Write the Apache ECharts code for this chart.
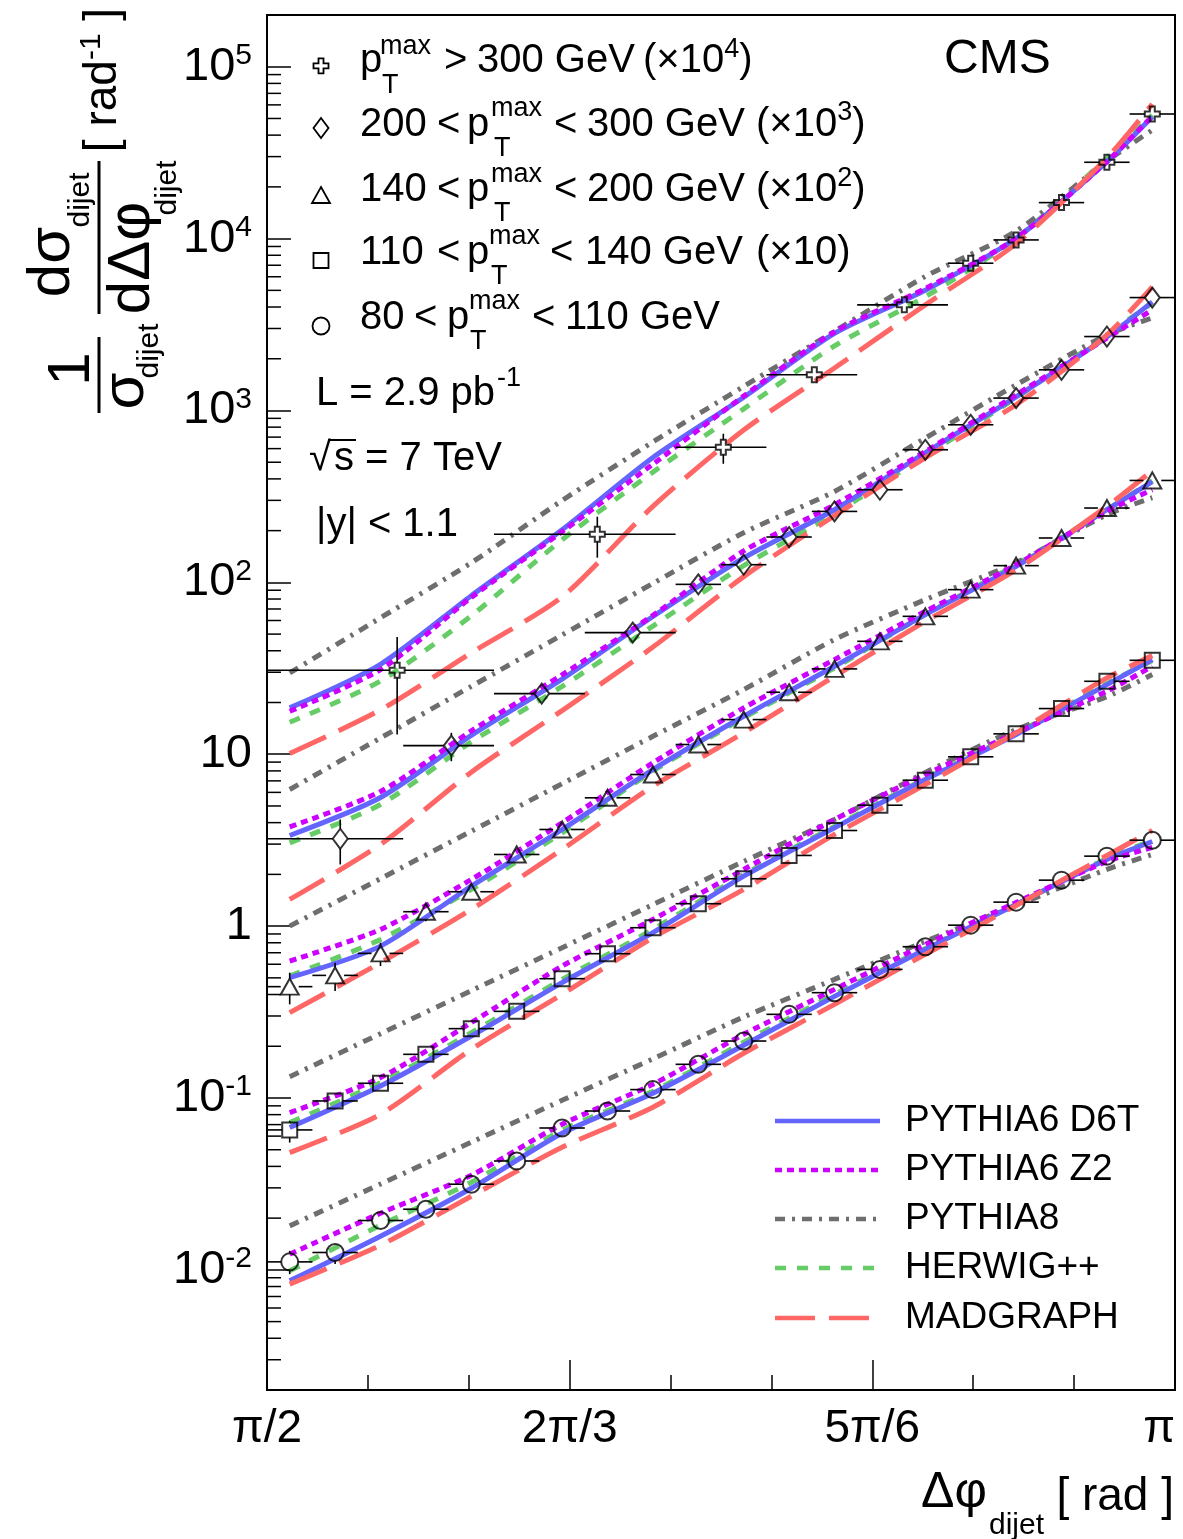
<!DOCTYPE html>
<html>
<head>
<meta charset="utf-8">
<script src="https://cdn.jsdelivr.net/npm/echarts@6/dist/echarts.min.js"></script>
<style>
  html, body { margin: 0; padding: 0; background: #fff; }
  #chart { width: 1183px; height: 1539px; }
</style>
</head>
<body>
<div id="chart"></div>
<script>
// CMS dijet azimuthal decorrelation, 1/sigma dsigma/dDeltaPhi, five pT(max) bins
// x is kept in degrees (90 = pi/2 ... 180 = pi), labels are written as fractions of pi

const FONT = '"Liberation Sans", Arial, Helvetica, sans-serif';

// ---- axis ticks ----
const xTickValues = [90, 120, 150, 180];
const xTickLabels = ['π/2', '2π/3', '5π/6', 'π'];

// ---- binning (20 bins of pi/40) ----
const binEdges = [90, 94.5, 99, 103.5, 108, 112.5, 117, 121.5, 126, 130.5, 135,
  139.5, 144, 148.5, 153, 157.5, 162, 166.5, 171, 175.5, 180];

// scale factors shown in the legend (x10^4, x10^3, x10^2, x10, x1)
const groupScale = [1e4, 1e3, 1e2, 10, 1];

// ---- data: pT > 300 GeV (open crosses, wide bins at low dphi) ----
const crossX = [102.9, 122.74, 135.23, 144.25, 153.17, 159.75, 164.25, 168.75, 173.25, 177.75];
const crossLo = [90, 112.5, 130.5, 139.5, 148.5, 157.5, 162, 166.5, 171, 175.5];
const crossHi = [112.5, 130.5, 139.5, 148.5, 157.5, 162, 166.5, 171, 175.5, 180];
const crossY = [0.003079, 0.01904, 0.0611, 0.1613, 0.4117, 0.7194, 0.9826, 1.620, 2.781, 5.309];
const crossErrLo = [0.001302, 0.01392, 0.04898, null, null, null, null, null, null, null];
const crossErrHi = [0.004815, 0.0241, 0.0732, null, null, null, null, null, null, null];

// ---- data: 200 < pT < 300 GeV (diamonds) ----
const diamondX = [97.26, 108.27, 117.23, 126.25, 132.75, 137.25, 141.75, 146.25, 150.75,
  155.25, 159.75, 164.25, 168.75, 173.25, 177.75];
const diamondLo = [90, 103.5, 112.5, 121.5, 130.5, 135, 139.5, 144, 148.5, 153, 157.5, 162, 166.5, 171, 175.5];
const diamondHi = [103.5, 112.5, 121.5, 130.5, 135, 139.5, 144, 148.5, 153, 157.5, 162, 166.5, 171, 175.5, 180];
const diamondY = [0.003222, 0.01123, 0.02254, 0.05101, 0.09736, 0.1267, 0.1836, 0.2587, 0.3459,
  0.5909, 0.8258, 1.181, 1.724, 2.693, 4.539];
const diamondErrLo = [0.002284, 0.009106, 0.01998, null, null, null, null, null, null, null, null, null, null, null, null];
const diamondErrHi = [0.004173, 0.01332, 0.02542, null, null, null, null, null, null, null, null, null, null, null, null];

// ---- data: 140 < pT < 200 GeV (triangles) ----
const triangleY = [0.004444, 0.005168, 0.006939, 0.01213, 0.01585, 0.02611, 0.03649, 0.05579, 0.07621, 0.1139,
  0.1591, 0.2294, 0.3137, 0.4539, 0.6344, 0.907, 1.251, 1.812, 2.707, 3.917];
const triangleErrLo = [0.003505, 0.004188, 0.005855, 0.01069, null, null, null, null, null, null,
  null, null, null, null, null, null, null, null, null, null];
const triangleErrHi = [0.005358, 0.006127, 0.008007, 0.01337, null, null, null, null, null, null,
  null, null, null, null, null, null, null, null, null, null];

// ---- data: 110 < pT < 140 GeV (squares) ----
const squareY = [0.00652, 0.00961, 0.01218, 0.01795, 0.02532, 0.03192, 0.04945, 0.0691, 0.0979, 0.135,
  0.1886, 0.2577, 0.36, 0.5051, 0.7062, 0.966, 1.314, 1.844, 2.657, 3.52];
const squareErrLo = [0.005504, null, null, null, null, null, null, null, null, null,
  null, null, null, null, null, null, null, null, null, null];
const squareErrHi = [0.00735, null, null, null, null, null, null, null, null, null,
  null, null, null, null, null, null, null, null, null, null];

// ---- data: 80 < pT < 110 GeV (circles) ----
const circleY = [0.01113, 0.01262, 0.01937, 0.02254, 0.0315, 0.043, 0.0669, 0.084, 0.1119, 0.157,
  0.2145, 0.3067, 0.41, 0.56, 0.759, 1.013, 1.379, 1.851, 2.553, 3.162];
const circleErrLo = [0.00944, 0.0108, null, null, null, null, null, null, null, null,
  null, null, null, null, null, null, null, null, null, null];
const circleErrHi = [0.0129, 0.0141, null, null, null, null, null, null, null, null,
  null, null, null, null, null, null, null, null, null, null];

// ---- generator predictions, read at these dphi values, one row per pT bin (high -> low) ----
const modelX = [92.25, 101.25, 110.25, 119.25, 128.25, 137.25, 146.25, 155.25, 164.25, 173.25, 177.75];

const pythia6D6T = [
  [0.001861, 0.003338, 0.008368, 0.02025, 0.0533, 0.1195, 0.2811, 0.5012, 1.005, 2.804, 5.119],
  [0.003368, 0.005602, 0.01288, 0.02736, 0.06327, 0.1388, 0.2646, 0.5676, 1.201, 2.682, 4.285],
  [0.005012, 0.00765, 0.01708, 0.03649, 0.08147, 0.1663, 0.3248, 0.649, 1.239, 2.646, 3.85],
  [0.006728, 0.01174, 0.02293, 0.04688, 0.09155, 0.1953, 0.3734, 0.7129, 1.302, 2.542, 3.553],
  [0.00863, 0.0157, 0.02985, 0.06235, 0.1065, 0.2025, 0.3902, 0.7322, 1.337, 2.443, 3.108]
];
const pythia6Z2 = [
  [0.001778, 0.003108, 0.008168, 0.01972, 0.04874, 0.1214, 0.2872, 0.5121, 1.005, 2.804, 5.168],
  [0.003783, 0.006068, 0.01368, 0.02899, 0.06429, 0.1524, 0.2829, 0.5775, 1.234, 2.636, 3.85],
  [0.00626, 0.009568, 0.01868, 0.03992, 0.08913, 0.1861, 0.3553, 0.6783, 1.267, 2.587, 3.459],
  [0.008226, 0.01314, 0.02744, 0.05855, 0.1094, 0.2136, 0.4173, 0.7621, 1.332, 2.325, 3.248],
  [0.01234, 0.02137, 0.03553, 0.07033, 0.1202, 0.2346, 0.4285, 0.7826, 1.373, 2.378, 2.868]
];
const pythia8 = [
  [0.002974, 0.006219, 0.013, 0.02994, 0.0656, 0.138, 0.2891, 0.6024, 1.106, 2.826, 4.285],
  [0.006234, 0.01244, 0.02482, 0.04945, 0.09867, 0.1945, 0.3381, 0.691, 1.41, 2.755, 3.459],
  [0.01, 0.01889, 0.03567, 0.06737, 0.1271, 0.2378, 0.4645, 0.7931, 1.302, 2.475, 3.108],
  [0.01331, 0.02368, 0.04211, 0.07489, 0.1334, 0.2378, 0.4173, 0.7829, 1.392, 2.165, 2.907],
  [0.01803, 0.03157, 0.05527, 0.097, 0.169, 0.296, 0.49, 0.815, 1.319, 2.137, 2.611]
];
const herwigPP = [
  [0.001535, 0.002668, 0.006395, 0.01772, 0.04378, 0.1022, 0.2378, 0.4587, 1.005, 2.934, 5.237],
  [0.003053, 0.0051, 0.01179, 0.02479, 0.0557, 0.1251, 0.2509, 0.5453, 1.185, 2.755, 4.228],
  [0.005121, 0.008368, 0.01634, 0.03491, 0.07965, 0.1628, 0.3179, 0.649, 1.267, 2.646, 3.902],
  [0.007194, 0.01229, 0.024, 0.04899, 0.09568, 0.1998, 0.3798, 0.7224, 1.319, 2.576, 3.506],
  [0.00987, 0.0182, 0.03235, 0.0649, 0.1094, 0.2108, 0.4008, 0.742, 1.337, 2.475, 3.15]
];
const madgraph = [
  [0.001009, 0.001812, 0.003892, 0.008234, 0.02766, 0.07691, 0.1766, 0.4117, 0.9352, 2.946, 6.07],
  [0.00143, 0.002985, 0.00786, 0.01795, 0.04201, 0.108, 0.2443, 0.5309, 1.08, 2.755, 5.238],
  [0.003137, 0.006127, 0.01251, 0.02792, 0.06516, 0.1332, 0.2841, 0.5933, 1.185, 2.766, 4.461],
  [0.004815, 0.008039, 0.01919, 0.04009, 0.0856, 0.1634, 0.3414, 0.6665, 1.332, 2.781, 3.748],
  [0.00826, 0.01392, 0.02683, 0.05168, 0.0883, 0.182, 0.3505, 0.6846, 1.319, 2.577, 3.6]
];

// ------------------------------------------------------------------

const binLo = binEdges.slice(0, -1);
const binHi = binEdges.slice(1);
const binCenters = binLo.map((e, i) => (e + binHi[i]) / 2);

const CROSS = 'path://M5,0H10V5H15V10H10V15H5V10H0V5H5Z';

const groups = [
  { x: crossX, lo: crossLo, hi: crossHi, y: crossY, eLo: crossErrLo, eHi: crossErrHi,
    symbol: CROSS, size: 15, gapX: 7.5, gapY: 7.5 },
  { x: diamondX, lo: diamondLo, hi: diamondHi, y: diamondY, eLo: diamondErrLo, eHi: diamondErrHi,
    symbol: 'diamond', size: [15, 20], gapX: 7.5, gapY: 10 },
  { x: binCenters, lo: binLo, hi: binHi, y: triangleY, eLo: triangleErrLo, eHi: triangleErrHi,
    symbol: 'triangle', size: [18, 16], gapX: 9, gapY: 8 },
  { x: binCenters, lo: binLo, hi: binHi, y: squareY, eLo: squareErrLo, eHi: squareErrHi,
    symbol: 'rect', size: 15, gapX: 7.5, gapY: 7.5 },
  { x: binCenters, lo: binLo, hi: binHi, y: circleY, eLo: circleErrLo, eHi: circleErrHi,
    symbol: 'circle', size: 17, gapX: 8.5, gapY: 8.5 }
];

const models = [
  { name: 'PYTHIA6 D6T', values: pythia6D6T, color: '#6464ff', dash: null, z: 5 },
  { name: 'PYTHIA6 Z2', values: pythia6Z2, color: '#cc00ff', dash: [7, 5], z: 6 },
  { name: 'PYTHIA8', values: pythia8, color: '#6e6e6e', dash: [10, 7, 3, 7], z: 4 },
  { name: 'HERWIG++', values: herwigPP, color: '#66cc66', dash: [11, 11], z: 3 },
  { name: 'MADGRAPH', values: madgraph, color: '#ff6666', dash: [40, 14], z: 7 }
];

// log minor ticks 2..9 x 10^k inside the frame
const yMinorTicks = [];
for (let e = -3; e <= 5; e++) {
  for (let m = 2; m <= 9; m++) {
    const v = m * Math.pow(10, e);
    if (v > 0.002 && v < 200000) yMinorTicks.push([90, v]);
  }
}

const series = [];

models.forEach(m => {
  m.values.forEach((row, g) => {
    series.push({
      type: 'line',
      name: m.name,
      data: modelX.map((x, i) => [x, row[i] * groupScale[g]]),
      showSymbol: false,
      symbol: 'none',
      smooth: 0.25,
      z: m.z,
      lineStyle: { color: m.color, width: 5, type: m.dash || 'solid', cap: 'butt' },
      silent: true
    });
  });
});

groups.forEach((grp, g) => {
  const s = groupScale[g];
  series.push({
    type: 'custom',
    z: 9,
    silent: true,
    renderItem: (params, api) => {
      const x = api.value(0), y = api.value(1);
      const p = api.coord([x, y]);
      const pl = api.coord([api.value(2), y]);
      const ph = api.coord([api.value(3), y]);
      const st = { stroke: '#000', lineWidth: 1.6 };
      const kids = [];
      if (p[0] - grp.gapX > pl[0] + 0.5)
        kids.push({ type: 'line', shape: { x1: pl[0], y1: p[1], x2: p[0] - grp.gapX, y2: p[1] }, style: st });
      if (ph[0] - 0.5 > p[0] + grp.gapX)
        kids.push({ type: 'line', shape: { x1: p[0] + grp.gapX, y1: p[1], x2: ph[0], y2: p[1] }, style: st });
      const eLo = api.value(4), eHi = api.value(5);
      if (eLo > 0 && eHi > 0) {
        const top = api.coord([x, eHi]);
        const bot = api.coord([x, eLo]);
        if (top[1] < p[1] - grp.gapY)
          kids.push({ type: 'line', shape: { x1: p[0], y1: top[1], x2: p[0], y2: p[1] - grp.gapY }, style: st });
        if (bot[1] > p[1] + grp.gapY)
          kids.push({ type: 'line', shape: { x1: p[0], y1: p[1] + grp.gapY, x2: p[0], y2: bot[1] }, style: st });
      }
      return { type: 'group', children: kids };
    },
    encode: { x: 0, y: 1 },
    data: grp.x.map((x, i) => [
      x, grp.y[i] * s, grp.lo[i], grp.hi[i],
      grp.eLo[i] == null ? null : grp.eLo[i] * s,
      grp.eHi[i] == null ? null : grp.eHi[i] * s
    ])
  });
  series.push({
    type: 'scatter',
    z: 10,
    silent: true,
    symbol: grp.symbol,
    symbolSize: grp.size,
    itemStyle: { color: 'rgba(0,0,0,0)', borderColor: '#000', borderWidth: 2 },
    data: grp.x.map((x, i) => [x, grp.y[i] * s])
  });
});

series.push({
  type: 'custom',
  silent: true,
  z: 11,
  renderItem: (params, api) => {
    const p = api.coord([api.value(0), api.value(1)]);
    return { type: 'line', shape: { x1: p[0], y1: p[1], x2: p[0] + 14, y2: p[1] },
      style: { stroke: '#000', lineWidth: 1.5 } };
  },
  encode: { x: 0, y: 1 },
  data: yMinorTicks
});

// ---- text helpers for the ROOT-style annotations ----
function txt(x, y, text, size, align) {
  return { type: 'text', x, y, z: 100, silent: true,
    style: { text, fontSize: size, fontFamily: FONT, fill: '#000',
      align: align || 'left', verticalAlign: 'middle' } };
}
function vtxt(x, y, text, size) {
  const t = txt(x, y, text, size, 'center');
  t.rotation = Math.PI / 2;
  return t;
}
function hline(x1, y1, x2, y2, w) {
  return { type: 'line', z: 100, silent: true, shape: { x1, y1, x2, y2 },
    style: { stroke: '#000', lineWidth: w || 1.6 } };
}
// text with a raised exponent, e.g. (x10^3)
function supTxt(x, y, base, sup, tail) {
  return { type: 'text', x, y, z: 100, silent: true,
    style: { text: '{m|' + base + '}{s|' + sup + '}{m|' + tail + '}', align: 'left', verticalAlign: 'middle',
      rich: { m: { fontSize: 40, fontFamily: FONT, fill: '#000', lineHeight: 50 },
              s: { fontSize: 27, fontFamily: FONT, fill: '#000', lineHeight: 27, verticalAlign: 'top' } } } };
}
const mk = { fill: 'rgba(0,0,0,0)', stroke: '#000', lineWidth: 1.8 };

const graphic = [
  // legend markers for the data
  { type: 'polygon', z: 100, silent: true, style: mk, shape: { points: [
    [318.5, 58.3], [323.5, 58.3], [323.5, 63.3], [328.5, 63.3], [328.5, 68.3], [323.5, 68.3],
    [323.5, 73.3], [318.5, 73.3], [318.5, 68.3], [313.5, 68.3], [313.5, 63.3], [318.5, 63.3]] } },
  { type: 'polygon', z: 100, silent: true, style: mk, shape: { points: [[321, 118], [328.5, 128], [321, 138], [313.5, 128]] } },
  { type: 'polygon', z: 100, silent: true, style: mk, shape: { points: [[321, 187], [330, 203], [312, 203]] } },
  { type: 'rect', z: 100, silent: true, style: mk, shape: { x: 313.5, y: 253, width: 15, height: 15 } },
  { type: 'circle', z: 100, silent: true, style: mk, shape: { cx: 321, cy: 326, r: 8.5 } },

  // row 1
  txt(360, 61, 'p', 40), txt(380, 47, 'max', 27), txt(382, 86, 'T', 27),
  txt(444, 61, '>', 40), txt(477, 61, '300 GeV', 40), supTxt(643, 61, '(×10', '4', ')'),
  // row 2
  txt(360, 124.5, '200', 40), txt(437, 124.5, '<', 40), txt(467, 124.5, 'p', 40),
  txt(491, 109, 'max', 27), txt(494, 148.5, 'T', 27),
  txt(554, 124.5, '<', 40), txt(587, 124.5, '300 GeV', 40), supTxt(756, 124.5, '(×10', '3', ')'),
  // row 3
  txt(360, 190, '140', 40), txt(437, 190, '<', 40), txt(467, 190, 'p', 40),
  txt(491, 174.5, 'max', 27), txt(494, 214, 'T', 27),
  txt(554, 190, '<', 40), txt(587, 190, '200 GeV', 40), supTxt(756, 190, '(×10', '2', ')'),
  // row 4
  txt(360, 252.5, '110', 40), txt(437, 252.5, '<', 40), txt(467, 252.5, 'p', 40),
  txt(489, 237, 'max', 27), txt(491, 276.5, 'T', 27),
  txt(550, 252.5, '<', 40), txt(585, 252.5, '140 GeV', 40), txt(756, 252.5, '(×10)', 40),
  // row 5
  txt(360, 317.5, '80', 40), txt(414, 317.5, '<', 40), txt(447, 317.5, 'p', 40),
  txt(469, 302, 'max', 27), txt(470, 341.5, 'T', 27),
  txt(532, 317.5, '<', 40), txt(565, 317.5, '110 GeV', 40),

  // run conditions
  txt(316, 393.5, 'L = 2.9 pb', 40), txt(497, 378.5, '-1', 27),
  txt(309, 459, '√', 40), hline(328, 440, 356, 440, 2), txt(334, 459, 's = 7 TeV', 40),
  txt(316, 525, '|y| < 1.1', 40),

  txt(944, 60, 'CMS', 48),

  // y title (rotated, reads bottom to top)
  vtxt(72, 369, '1', 60), hline(99, 337, 99, 413, 3), vtxt(126, 391, 'σ', 60), vtxt(150, 351, 'dijet', 30),
  vtxt(52, 262, 'dσ', 60), vtxt(81, 200, 'dijet', 30), hline(99, 161, 99, 314, 3),
  vtxt(132, 258, 'dΔφ', 60), vtxt(168, 188, 'dijet', 30),
  { type: 'text', x: 103, y: 80, z: 100, rotation: Math.PI / 2, silent: true,
    style: { text: '{m|[ rad}{s|-1}{m| ]}', align: 'center', verticalAlign: 'middle',
      rich: { m: { fontSize: 46, fontFamily: FONT, fill: '#000', lineHeight: 52 },
              s: { fontSize: 30, fontFamily: FONT, fill: '#000', lineHeight: 30, verticalAlign: 'top' } } } },

  // x title
  txt(921, 1493, 'Δφ', 50), txt(989, 1526, 'dijet', 30), txt(1174, 1497, '[ rad ]', 46, 'right')
];

// model legend, bottom right (line samples drawn with the same dash patterns)
const legendRowY = [1121, 1170, 1219, 1268, 1318];
models.forEach((m, i) => {
  graphic.push({ type: 'line', z: 100, silent: true,
    shape: { x1: 775, y1: legendRowY[i], x2: 880, y2: legendRowY[i] },
    style: { stroke: m.color, lineWidth: 4.5, lineDash: m.dash || null, lineCap: 'butt' } });
  graphic.push(txt(905, legendRowY[i], m.name, 37));
});

const option = {
  animation: false,
  backgroundColor: '#fff',
  grid: { left: 267, top: 15, width: 908, height: 1375, show: true, borderColor: '#000', borderWidth: 2,
    backgroundColor: 'rgba(0,0,0,0)', containLabel: false, outerBoundsMode: 'none' },
  xAxis: {
    type: 'value', min: 90, max: 180, interval: 30,
    axisLine: { show: true, onZero: false, lineStyle: { color: '#000', width: 2 } },
    axisTick: { show: true, inside: true, length: 30, lineStyle: { color: '#000', width: 1.5 } },
    minorTick: { show: true, splitNumber: 3, length: 15, lineStyle: { color: '#000', width: 1.5 } },
    splitLine: { show: false }, minorSplitLine: { show: false },
    axisLabel: {
      margin: 16, fontSize: 46, fontFamily: FONT, color: '#000', alignMaxLabel: 'right',
      showMinLabel: true, showMaxLabel: true,
      formatter: v => {
        const i = xTickValues.indexOf(Math.round(v));
        return i >= 0 ? xTickLabels[i] : '';
      }
    }
  },
  yAxis: {
    type: 'log', logBase: 10, min: 0.002, max: 200000, splitNumber: 8,
    axisLine: { show: true, onZero: false, lineStyle: { color: '#000', width: 2 } },
    axisTick: { show: true, inside: true, length: 24, lineStyle: { color: '#000', width: 1.5 } },
    minorTick: { show: false }, splitLine: { show: false }, minorSplitLine: { show: false },
    axisLabel: {
      margin: 15, showMinLabel: false, showMaxLabel: false,
      formatter: v => {
        const e = Math.round(Math.log10(v));
        if (e === 0) return '{b|1}';
        if (e === 1) return '{b|10}';
        return '{b|10}{s|' + e + '}';
      },
      rich: {
        b: { fontSize: 47, fontFamily: FONT, color: '#000', lineHeight: 52 },
        s: { fontSize: 30, fontFamily: FONT, color: '#000', lineHeight: 26, verticalAlign: 'top' }
      }
    }
  },
  graphic,
  series
};

const chart = echarts.init(document.getElementById('chart'), null, { renderer: 'canvas' });
chart.setOption(option);
</script>
</body>
</html>
